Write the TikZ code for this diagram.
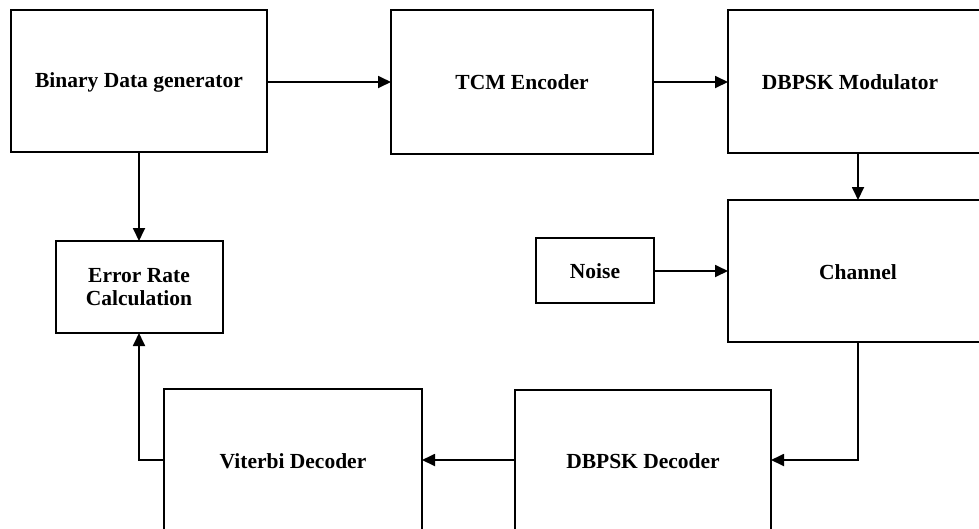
\documentclass[tikz,border=0pt]{standalone}
\usepackage{fontspec}
\setmainfont{Liberation Serif}
\usetikzlibrary{arrows.meta}
\begin{document}
\begin{tikzpicture}[x=1pt,y=-1pt,
  blk/.style={draw=black,line width=1.8pt,fill=none},
  lbl/.style={font=\fontsize{21.5}{23}\selectfont\bfseries,align=center,inner sep=0pt},
  flow/.style={line width=1.8pt,-{Triangle[length=13pt,width=12pt]}},
  wire/.style={line width=1.8pt}]
\useasboundingbox (0,0) rectangle (979,528);
\clip (0,0) rectangle (979,528);
\fill[white] (0,0) rectangle (979,528);
% blocks
\draw[blk] (11,10) rectangle (267,152);
\node[lbl] (bin) at (139,82) {Binary Data generator};
\coordinate (binR) at (267,82);
\coordinate (binB) at (139,152);
\draw[blk] (391,10) rectangle (653,154);
\node[lbl] (tcm) at (522,82) {TCM Encoder};
\coordinate (tcmL) at (391,82);
\coordinate (tcmR) at (653,82);
\draw[blk] (728,10) rectangle (1000,153);
\node[lbl] (mod) at (850,82) {DBPSK Modulator};
\coordinate (modL) at (728,82);
\coordinate (modB) at (858,153);
\draw[blk] (728,200) rectangle (1000,342);
\node[lbl] (chan) at (858,272) {Channel};
\coordinate (chanT) at (858,200);
\coordinate (chanL) at (728,271);
\coordinate (chanB) at (858,342);
\draw[blk] (536,238) rectangle (654,303);
\node[lbl] (noise) at (595,271) {Noise};
\coordinate (noiseR) at (654,271);
\draw[blk] (56,241) rectangle (223,333);
\node[lbl] (err) at (139,287) {Error Rate\\Calculation};
\coordinate (errT) at (139,241);
\coordinate (errB) at (139,333);
\draw[blk] (515,390) rectangle (771,560);
\node[lbl] (dec) at (643,461) {DBPSK Decoder};
\coordinate (decR) at (771,460);
\coordinate (decL) at (515,460);
\draw[blk] (164,389) rectangle (422,560);
\node[lbl] (vit) at (293,461) {Viterbi Decoder};
\coordinate (vitR) at (422,460);
\coordinate (vitL) at (164,460);
% connectors
\draw[flow] (binR) -- (tcmL);
\draw[flow] (tcmR) -- (modL);
\draw[flow] (modB) -- (chanT);
\draw[flow] (noiseR) -- (chanL);
\draw[flow] (chanB) -- (858,460) -- (decR);
\draw[flow] (decL) -- (vitR);
\draw[flow] (vitL) -- (139,460) -- (errB);
\draw[flow] (binB) -- (errT);
\end{tikzpicture}
\end{document}
